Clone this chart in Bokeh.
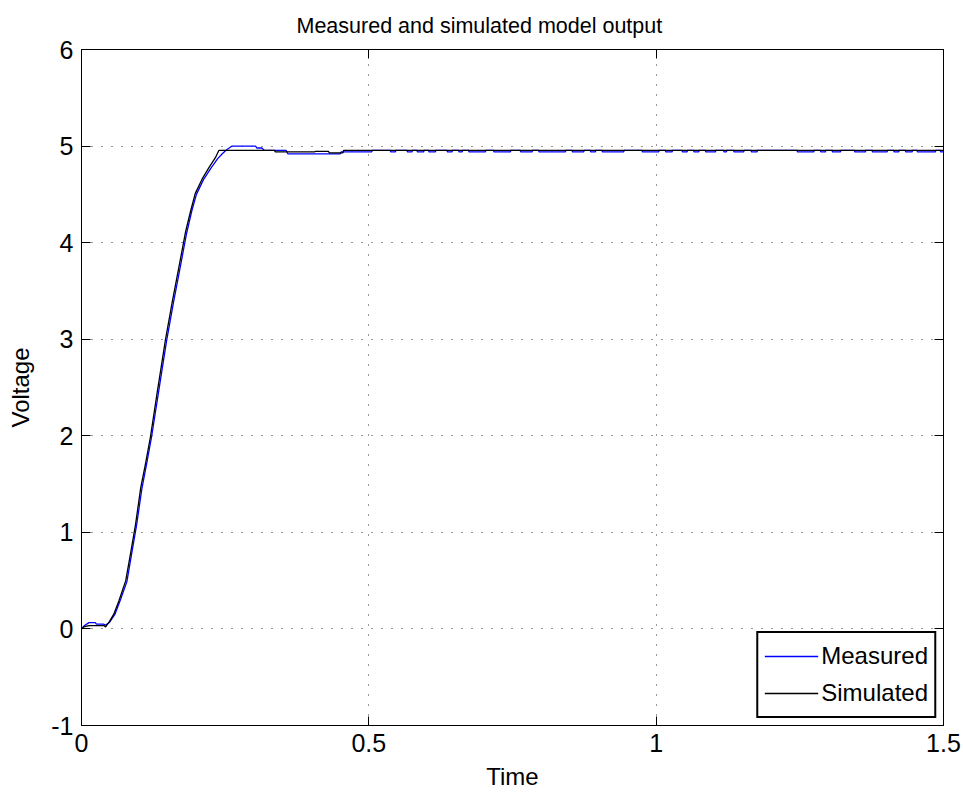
from bokeh.plotting import figure
from bokeh.models import FixedTicker, LinearAxis, Legend, LegendItem, Range1d
from bokeh.embed import file_html
from bokeh.resources import INLINE

title_text = "Measured and simulated model output"
x_label = "Time"
y_label = "Voltage"
x_ticks = [0, 0.5, 1, 1.5]
x_tick_labels = ["0", "0.5", "1", "1.5"]
y_ticks = [-1, 0, 1, 2, 3, 4, 5, 6]
y_tick_labels = ["-1", "0", "1", "2", "3", "4", "5", "6"]

# Simulated model output
sim_t = [0, 0.004, 0.013, 0.039, 0.042, 0.048, 0.056, 0.065, 0.077, 0.085, 0.094,
         0.103, 0.111, 0.120, 0.132, 0.146, 0.158, 0.169, 0.181, 0.190, 0.198,
         0.210, 0.222, 0.233, 0.239, 0.336, 0.337, 0.406, 0.407, 0.430, 0.431,
         0.455, 0.456, 1.5]
sim_v = [0, 0.02, 0.035, 0.035, 0.02, 0.07, 0.15, 0.29, 0.50, 0.77, 1.08,
         1.46, 1.70, 1.99, 2.46, 2.99, 3.39, 3.73, 4.11, 4.33, 4.51,
         4.66, 4.78, 4.88, 4.955, 4.955, 4.94, 4.94, 4.945, 4.945, 4.93,
         4.93, 4.955, 4.955]

# Measured output, transient part
meas_t = [0, 0.004, 0.013, 0.024, 0.026, 0.038, 0.042, 0.049, 0.058, 0.067, 0.079,
          0.087, 0.096, 0.105, 0.113, 0.122, 0.134, 0.148, 0.160, 0.171, 0.183,
          0.192, 0.200, 0.212, 0.225, 0.237, 0.245, 0.252, 0.262, 0.303, 0.305,
          0.314, 0.318, 0.356, 0.359, 0.450, 0.452, 0.505, 0.506]
meas_v = [0, 0.03, 0.065, 0.065, 0.05, 0.05, 0.04, 0.07, 0.15, 0.29, 0.49,
          0.77, 1.08, 1.45, 1.70, 1.99, 2.45, 2.98, 3.38, 3.72, 4.10,
          4.33, 4.50, 4.65, 4.77, 4.87, 4.92, 4.96, 5.0, 5.0, 4.98,
          4.98, 4.955, 4.955, 4.92, 4.92, 4.94, 4.94, 4.955]

# Measured output, steady part: level and the short intervals where it sits lower
meas_level = 4.955
meas_low = 4.94
meas_low_start = [0.5378, 0.5668, 0.5842, 0.6044, 0.6364, 0.6566, 0.6740, 0.7175,
                  0.7640, 0.7959, 0.8540, 0.8858, 0.9062, 0.9758, 1.0164, 1.0454,
                  1.0656, 1.0860, 1.1178, 1.1352, 1.1655, 1.2456, 1.2861, 1.3065,
                  1.3453, 1.3761, 1.4137, 1.4340, 1.4544, 1.4948]
meas_low_end = [0.5465, 0.5755, 0.5957, 0.6161, 0.6451, 0.6626, 0.7031, 0.7466,
                0.7844, 0.8423, 0.8742, 0.8945, 0.9438, 1.0047, 1.0280, 1.0541,
                1.0743, 1.1034, 1.1225, 1.1526, 1.1759, 1.2745, 1.2948, 1.3209,
                1.3644, 1.4022, 1.4224, 1.4457, 1.4862, 1.5]

mt = list(meas_t)
mv = list(meas_v)
for s, e in zip(meas_low_start, meas_low_end):
    mt += [s, s, e, e]
    mv += [meas_level, meas_low, meas_low, meas_level]
if mt[-1] < 1.5:
    mt.append(1.5)
    mv.append(meas_level)

FONT = "Liberation Sans"

p = figure(width=963, height=795, output_backend="svg", toolbar_location=None,
           x_range=Range1d(0, 1.5), y_range=Range1d(-1, 6),
           min_border_left=81, min_border_right=20, min_border_top=49,
           min_border_bottom=70, background_fill_color="white",
           border_fill_color="white")

p.title.text = title_text
p.title.align = "left"
p.title.offset = 215
p.title.text_font = FONT
p.title.text_font_size = "21.5px"
p.title.text_font_style = "normal"
p.title.text_color = "black"
p.title.standoff = 23

p.outline_line_color = "black"
p.outline_line_width = 1

for ax, ticks, labels in ((p.xaxis[0], x_ticks, x_tick_labels), (p.yaxis[0], y_ticks, y_tick_labels)):
    ax.ticker = FixedTicker(ticks=ticks)
    ax.major_label_overrides = {t: l for t, l in zip(ticks, labels)}
    ax.major_tick_in = 9
    ax.major_tick_out = 0
    ax.minor_tick_line_color = None
    ax.axis_line_color = "black"
    ax.major_tick_line_color = "black"
    ax.major_label_text_font = FONT
    ax.major_label_text_font_size = "25px"
    ax.major_label_text_color = "black"
    ax.axis_label_text_font = FONT
    ax.axis_label_text_font_size = "24px"
    ax.axis_label_text_font_style = "normal"
    ax.axis_label_text_color = "black"

p.xaxis[0].axis_label = x_label
p.yaxis[0].axis_label = y_label
p.xaxis[0].major_label_standoff = 8
p.yaxis[0].major_label_standoff = 8
p.xaxis[0].axis_label_standoff = 8
p.yaxis[0].axis_label_standoff = 14

for loc, ticks in (("above", x_ticks), ("right", y_ticks)):
    a = LinearAxis(ticker=FixedTicker(ticks=ticks), major_tick_in=9, major_tick_out=0,
                   minor_tick_line_color=None, major_label_text_color=None,
                   major_label_text_font_size="1px",
                   major_label_standoff=0, axis_line_color="black")
    p.add_layout(a, loc)

for g, ticks in ((p.xgrid[0], x_ticks), (p.ygrid[0], y_ticks)):
    g.ticker = FixedTicker(ticks=ticks)
    g.grid_line_color = "black"
    g.grid_line_dash = "1 9"
    g.grid_line_width = 1
    g.grid_line_alpha = 0.8

r_meas = p.line(mt, mv, line_color="#0000ff", line_width=1.3)
r_sim = p.line(sim_t, sim_v, line_color="black", line_width=1.3)

legend = Legend(items=[LegendItem(label="Measured", renderers=[r_meas]),
                       LegendItem(label="Simulated", renderers=[r_sim])],
                location="bottom_right")
legend.label_text_font = FONT
legend.label_text_font_size = "24px"
legend.label_text_color = "black"
legend.glyph_width = 54
legend.glyph_height = 34
legend.label_height = 34
legend.label_standoff = 3
legend.spacing = 3
legend.padding = 6
legend.margin = 7
legend.border_line_color = "black"
legend.border_line_alpha = 1
legend.border_line_width = 2
legend.background_fill_color = "white"
legend.background_fill_alpha = 1
p.add_layout(legend)

open("out.html", "w").write(file_html(p, INLINE))
